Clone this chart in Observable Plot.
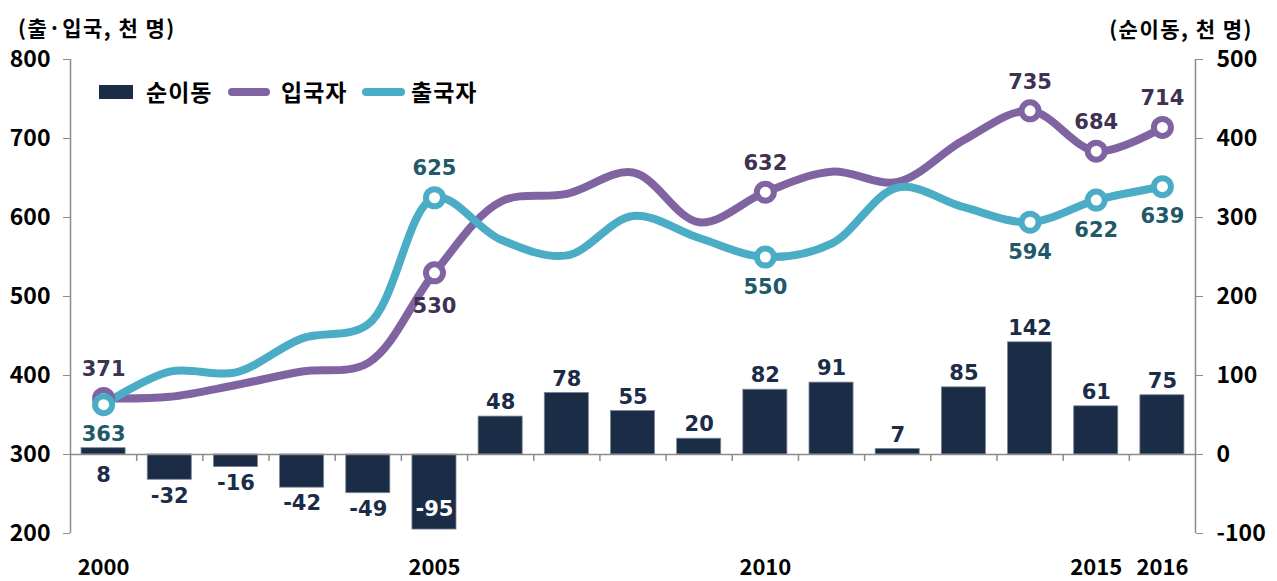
<!DOCTYPE html>
<html><head><meta charset="utf-8">
<script src="https://cdn.jsdelivr.net/npm/d3@7"></script>
<script src="https://cdn.jsdelivr.net/npm/@observablehq/plot@0.6"></script>
<style>
body{margin:0;background:#fff;}
#wrap{position:relative;width:1277px;height:581px;font-family:"Noto Sans CJK KR",sans-serif;}
#wrap svg{position:absolute;left:0;top:0;}
.t{position:absolute;font-weight:bold;color:#000;line-height:1;white-space:nowrap;}
.sw{position:absolute;}
</style></head><body><div id="wrap"></div>
<script>
// ---- data ----
const years = [2000,2001,2002,2003,2004,2005,2006,2007,2008,2009,2010,2011,2012,2013,2014,2015,2016];
const netMigration = [8,-32,-16,-42,-49,-95,48,78,55,20,82,91,7,85,142,61,75];
const arrivals   = [371,373,388,405,416,530,620,630,657,594,632,658,645,698,735,684,714];
const departures = [363,405,404,447,465,625,572,552,602,574,550,567,638,613,594,622,639];
const leftTicks  = [200,300,400,500,600,700,800];
const rightTicks = [-100,0,100,200,300,400,500];
const yearLabels = [2000,2005,2010,2015,2016];
const markedYears = [2000,2005,2010,2014,2015,2016];
const seriesNames = ["순이동","입국자","출국자"];
const leftTitle = "(출·입국, 천 명)";
const rightTitle = "(순이동, 천 명)";

// ---- chart ----
const NAVY="#1b2c47", PURPLE="#8064a2", CYAN="#4bacc6", GREY="#8c8c8c";
const shift = leftTicks[0] - rightTicks[0]; // right axis -> left axis units
const data = years.map((y,i)=>({year:y, net:netMigration[i], arr:arrivals[i], dep:departures[i]}));
const marked = data.filter(d=>markedYears.includes(d.year));
const barBelow = new Set([2000]);
const barInside = new Set([2005]);
const arrBelow = new Set([2005]);
const depAbove = new Set([2005]);
const numFont = {fontFamily:"'DejaVu Sans', sans-serif", fontWeight:"bold", fontSize:21};
const axFont = {fontFamily:"'Noto Sans CJK KR', sans-serif", fontWeight:"bold", fontSize:23};

const posBars = data.filter(d=>d.net>0 && !barBelow.has(d.year));
const negBars = data.filter(d=>d.net<0 && !barInside.has(d.year));
const belowBars = data.filter(d=>barBelow.has(d.year));
const insideBars = data.filter(d=>barInside.has(d.year));

const chart = Plot.plot({
  width:1277, height:581,
  marginLeft:70, marginRight:82, marginTop:59, marginBottom:48,
  x:{type:"linear", domain:[years[0]-0.5, years[years.length-1]+0.5]},
  y:{domain:[leftTicks[0], leftTicks[leftTicks.length-1]]},
  style:{background:"transparent", overflow:"visible"},
  marks:[
    Plot.rectY(data,{x1:d=>d.year-0.333, x2:d=>d.year+0.333, y1:shift, y2:d=>d.net+shift, fill:NAVY, stroke:"#7f8896", strokeWidth:0.8}),
    Plot.ruleY([shift],{stroke:GREY, strokeWidth:1.5}),
    Plot.ruleX(years.slice(0,-1).map(y=>y+0.5),{y1:shift, y2:shift, insetTop:0, insetBottom:-7, stroke:GREY, strokeWidth:1.5}),
    Plot.ruleX([years[0]-0.5, years[years.length-1]+0.5],{stroke:GREY, strokeWidth:1.5}),
    Plot.axisY({anchor:"left", ticks:leftTicks, tickSize:7, tickPadding:13, label:null, stroke:GREY, fill:"#000", ...axFont}),
    Plot.axisY({anchor:"right", ticks:rightTicks.map(v=>v+shift), tickFormat:d=>String(d-shift), tickSize:7, tickPadding:14, label:null, stroke:GREY, fill:"#000", ...axFont}),
    Plot.axisX({anchor:"bottom", ticks:yearLabels, tickFormat:d=>String(d), tickSize:0, tickPadding:26, label:null, fill:"#000", ...axFont, fontSize:22}),
    Plot.line(data,{x:"year", y:"arr", stroke:PURPLE, strokeWidth:8, curve:"catmull-rom"}),
    Plot.line(data,{x:"year", y:"dep", stroke:CYAN, strokeWidth:8, curve:"catmull-rom"}),
    Plot.dot(marked,{x:"year", y:"arr", r:8.5, fill:"white", stroke:PURPLE, strokeWidth:6}),
    Plot.dot(marked,{x:"year", y:"dep", r:8.5, fill:"white", stroke:CYAN, strokeWidth:6}),
    Plot.text(marked,{x:"year", y:"arr", text:d=>String(d.arr), fill:"#3f3151", ...numFont,
      filter:d=>!arrBelow.has(d.year), lineAnchor:"middle", dy:-29}),
    Plot.text(marked,{x:"year", y:"arr", text:d=>String(d.arr), fill:"#3f3151", ...numFont,
      filter:d=>arrBelow.has(d.year), lineAnchor:"middle", dy:33}),
    Plot.text(marked,{x:"year", y:"dep", text:d=>String(d.dep), fill:"#215968", ...numFont,
      filter:d=>!depAbove.has(d.year), lineAnchor:"middle", dy:30}),
    Plot.text(marked,{x:"year", y:"dep", text:d=>String(d.dep), fill:"#215968", ...numFont,
      filter:d=>depAbove.has(d.year), lineAnchor:"middle", dy:-29}),
    Plot.text(posBars,{x:"year", y:d=>d.net+shift, text:d=>String(d.net), fill:NAVY, ...numFont, lineAnchor:"middle", dy:-14}),
    Plot.text(negBars,{x:"year", y:d=>d.net+shift, text:d=>String(d.net), fill:NAVY, ...numFont, lineAnchor:"middle", dy:16}),
    Plot.text(belowBars,{x:"year", y:shift, text:d=>String(d.net), fill:NAVY, ...numFont, lineAnchor:"middle", dy:21}),
    Plot.text(insideBars,{x:"year", y:d=>d.net+shift, text:d=>String(d.net), fill:"#ffffff", ...numFont, lineAnchor:"middle", dy:-20})
  ]
});
const wrap = document.getElementById("wrap");
wrap.appendChild(chart);

function addText(txt, css){ const e=document.createElement("div"); e.className="t"; e.textContent=txt; Object.assign(e.style,css); wrap.appendChild(e); return e; }
function addSw(css){ const e=document.createElement("div"); e.className="sw"; Object.assign(e.style,css); wrap.appendChild(e); }
addText(leftTitle,{left:"18px", top:"17px", fontSize:"21px", letterSpacing:"1.5px"});
addText(rightTitle,{right:"24px", top:"18px", fontSize:"21px", letterSpacing:"1.5px"});
// legend
addSw({left:"99px", top:"85px", width:"34px", height:"14px", background:NAVY});
addText(seriesNames[0],{left:"146px", top:"80px", fontSize:"23px", letterSpacing:"1px"});
addSw({left:"228px", top:"88px", width:"42px", height:"8px", borderRadius:"4px", background:PURPLE});
addText(seriesNames[1],{left:"281px", top:"80px", fontSize:"23px", letterSpacing:"1px"});
addSw({left:"362px", top:"88px", width:"43px", height:"8px", borderRadius:"4px", background:CYAN});
addText(seriesNames[2],{left:"411px", top:"80px", fontSize:"23px", letterSpacing:"1px"});
</script></body></html>
